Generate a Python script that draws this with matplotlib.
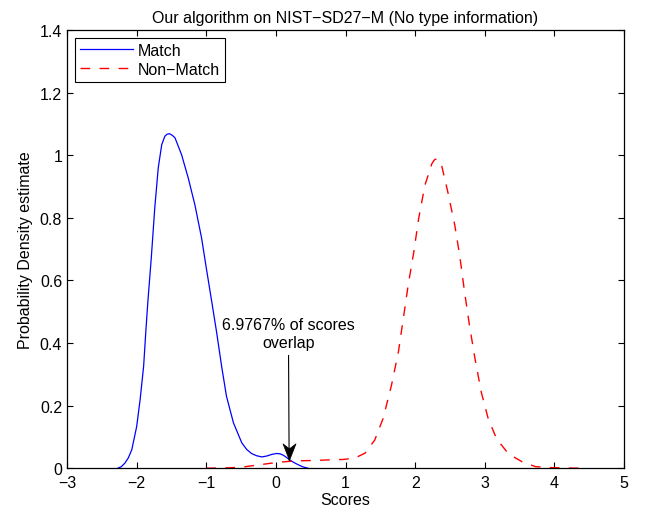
import numpy as np
import matplotlib
matplotlib.use("Agg")
import matplotlib.pyplot as plt
from matplotlib.path import Path

plt.rcParams['font.family'] = ['Liberation Sans', 'DejaVu Sans']
plt.rcParams['font.size'] = 11.5
plt.rcParams['lines.scale_dashes'] = False

# Match curve
match_x = [-2.27, -2.22, -2.17, -2.12, -2.07, -2.0, -1.95, -1.9, -1.87, -1.84,
           -1.79, -1.74, -1.69, -1.64, -1.595, -1.565, -1.53, -1.49, -1.45, -1.355,
           -1.26, -1.164, -1.068, -1.0, -0.92, -0.85, -0.78, -0.71, -0.61, -0.49,
           -0.42, -0.35, -0.28, -0.2, -0.13, -0.06, 0.01, 0.06, 0.11, 0.155,
           0.2, 0.26, 0.32, 0.39, 0.46]
match_y = [0.0, 0.005, 0.016, 0.033, 0.059, 0.133, 0.22, 0.326, 0.432, 0.53,
           0.672, 0.832, 0.96, 1.034, 1.061, 1.067, 1.069, 1.064, 1.056, 1.002,
           0.928, 0.842, 0.736, 0.64, 0.53, 0.432, 0.326, 0.23, 0.145, 0.081,
           0.06, 0.047, 0.04, 0.036, 0.039, 0.044, 0.047, 0.046, 0.041, 0.034,
           0.026, 0.018, 0.011, 0.004, 0.0]

# Non-match curve
nonmatch_x = [-1.0, -0.7, -0.5, -0.37, -0.2, 0.0, 0.2, 0.4, 0.6, 0.8,
              0.97, 1.13, 1.28, 1.42, 1.54, 1.66, 1.76, 1.83, 1.9, 1.98,
              2.05, 2.14, 2.24, 2.275, 2.31, 2.345, 2.38, 2.47, 2.57, 2.64,
              2.71, 2.78, 2.86, 2.95, 3.05, 3.17, 3.34, 3.54, 3.73, 3.93,
              4.2, 4.42]
nonmatch_y = [0.0, 0.001, 0.003, 0.007, 0.012, 0.018, 0.022, 0.024, 0.025, 0.027,
              0.028, 0.032, 0.048, 0.09, 0.159, 0.265, 0.372, 0.478, 0.585, 0.69,
              0.797, 0.904, 0.973, 0.985, 0.989, 0.982, 0.968, 0.882, 0.776, 0.68,
              0.563, 0.457, 0.35, 0.243, 0.158, 0.094, 0.046, 0.02, 0.005, 0.002,
              0.0005, 0.0]

overlap_pct = 6.9767
arrow_tip = (0.19, 0.026)
label_pos = (0.18, 0.43)

fig = plt.figure(figsize=(6.51, 5.10), dpi=100)
ax = fig.add_axes([0.103, 0.080, 0.8555, 0.859])

ax.plot(match_x, match_y, color='blue', lw=0.9, label='Match')
ax.plot(nonmatch_x, nonmatch_y, color='red', lw=1.0, dashes=(7, 6.7), label='Non\u2212Match')

# text + shaft, then a notched head like matlab's
ax.annotate('%.4f%% of scores\noverlap' % overlap_pct, xy=arrow_tip, xytext=label_pos,
            ha='center', va='center', fontsize=11.5,
            arrowprops=dict(arrowstyle='-', color='black', lw=0.8,
                            shrinkA=2, shrinkB=0))
head = Path([(0, 0), (-0.39, 1), (0, 0.7), (0.39, 1), (0, 0)],
            [Path.MOVETO, Path.LINETO, Path.LINETO, Path.LINETO, Path.CLOSEPOLY])
ax.plot([arrow_tip[0]], [arrow_tip[1]], marker=head, ms=24, color='black',
        mec='black', mew=0.5, zorder=5)

ax.set_xlim(-3, 5)
ax.set_ylim(0, 1.4)
ax.set_xticks(np.arange(-3, 6, 1))
ax.set_yticks(np.arange(0, 1.41, 0.2))
ax.set_yticklabels(['0', '0.2', '0.4', '0.6', '0.8', '1', '1.2', '1.4'])
ax.tick_params(direction='in', top=True, right=True, length=4, width=0.8, labelsize=11.5)
ax.tick_params(axis='x', pad=5)
for s in ax.spines.values():
    s.set_linewidth(0.9)

ax.set_xlabel('Scores', labelpad=1)
ax.set_ylabel('Probability Density estimate', labelpad=5)
ax.set_title('Our algorithm on NIST\u2212SD27\u2212M (No type information)', fontsize=11.5, pad=6)

leg = ax.legend(loc='upper left', fancybox=False, framealpha=1, edgecolor='black',
                handlelength=3.3, handletextpad=0.35, borderpad=0.3, labelspacing=0.25)
leg.get_frame().set_linewidth(0.8)

fig.savefig('out.png', dpi=100)
